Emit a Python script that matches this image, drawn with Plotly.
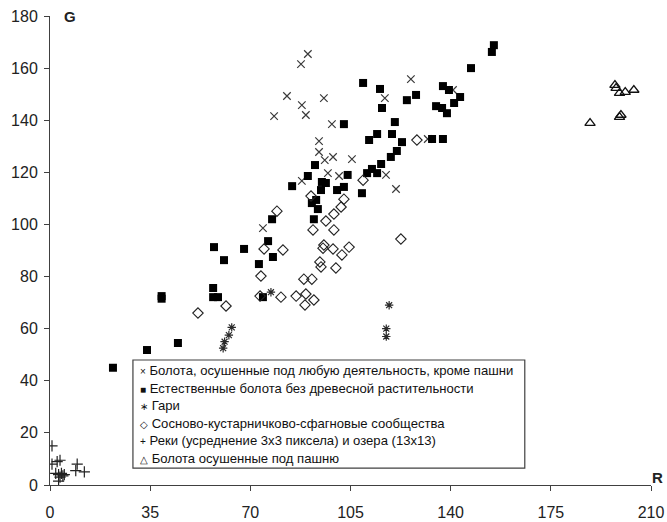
import plotly.graph_objects as go

# Scatter of R vs G brightness for land-cover classes

drained_any_r = [90.1, 87.7, 82.8, 88.0, 89.4, 95.7, 78.3, 98.5, 94.0, 94.0, 98.9, 96.0,
                 97.1, 101.0, 88.0, 74.4, 126.1, 117.0, 140.8, 132.0, 105.5, 117.4, 120.9]
drained_any_g = [165.4, 161.5, 149.3, 145.8, 142.0, 148.5, 141.6, 138.5, 132.0, 127.8, 125.9, 124.7,
                 119.7, 118.6, 116.7, 98.6, 155.8, 148.5, 151.6, 132.8, 125.1, 119.0, 113.6]

natural_r = [22.0, 33.9, 44.7, 39.0, 39.0,
             57.3, 57.0, 57.0, 58.7, 60.8, 67.8, 73.0, 74.4, 76.2, 77.6, 77.9,
             84.6, 90.1, 91.5, 92.2, 92.6, 93.0, 93.6, 94.7, 95.0, 96.4, 100.3, 102.7, 104.0, 109.0,
             102.7, 109.4, 110.8, 111.5, 112.5, 114.3, 114.3, 115.3, 115.7, 116.0, 119.1, 119.5,
             120.5, 121.2, 123.0, 124.7, 127.9, 133.5, 134.9, 137.0, 137.3, 137.3, 138.7, 139.4,
             141.2, 143.3, 147.1, 154.4, 155.1]
natural_g = [45.0, 51.8, 54.5, 72.5, 71.5,
             91.3, 75.6, 72.1, 72.1, 86.3, 90.6, 84.8, 72.1, 93.6, 102.0, 87.5,
             114.7, 118.6, 108.2, 102.0, 122.8, 109.4, 105.9, 113.2, 116.3, 115.9, 113.2, 114.4, 119.0, 112.0,
             138.5, 154.3, 119.7, 132.4, 121.3, 119.7, 134.7, 152.0, 123.2, 144.7, 125.9, 134.7,
             139.3, 128.2, 131.6, 147.7, 149.7, 132.8, 145.4, 144.7, 132.8, 153.1, 142.7, 151.6,
             146.6, 148.9, 160.0, 166.2, 168.8]

burnt_r = [77.2, 63.5, 62.5, 61.0, 60.5, 118.5, 117.5, 117.5]
burnt_g = [74.0, 60.5, 57.5, 55.0, 52.5, 69.0, 60.0, 57.0]

pine_r = [79.3, 74.8, 81.4, 73.7, 51.7, 61.5, 73.4, 80.7, 86.0, 89.4, 92.2, 89.1, 88.7, 91.5,
          94.3, 94.7, 99.9, 95.7, 95.4, 98.9, 102.0, 104.5, 91.9, 99.2, 96.4, 99.2, 101.7, 102.7,
          91.2, 128.2, 109.4, 122.6]
pine_g = [105.1, 90.6, 90.2, 80.2, 66.0, 68.7, 72.5, 72.1, 72.5, 73.3, 71.0, 69.1, 79.0, 79.0,
          85.6, 83.7, 83.3, 92.1, 90.9, 90.6, 88.3, 91.3, 97.9, 97.9, 101.3, 104.0, 106.7, 109.7,
          110.9, 132.4, 117.0, 94.4]

water_r = [0.7, 0.7, 2.5, 3.5, 9.5, 9.0, 12.0, 2.0, 3.0, 4.0, 5.0, 3.5, 3.0, 4.5]
water_g = [15.0, 8.0, 9.0, 9.5, 8.0, 5.5, 5.0, 4.5, 4.0, 4.5, 4.0, 3.0, 1.5, 3.5]

arable_r = [197.4, 197.8, 199.0, 201.0, 204.0, 199.5, 199.0, 188.7]
arable_g = [153.5, 152.3, 150.4, 150.8, 151.6, 142.0, 141.2, 138.9]

labels = [
    "Болота, осушенные под любую деятельность, кроме пашни",
    "Естественные болота без древесной растительности",
    "Гари",
    "Сосново-кустарничково-сфагновые сообщества",
    "Реки (усреднение 3х3 пиксела) и озера (13х13)",
    "Болота осушенные под пашню",
]
# glyphs used as key symbols in the boxed legend
key_glyphs = ["×", "■", "∗", "◇", "+", "△"]

x_ticks = [0, 35, 70, 105, 140, 175, 210]
y_ticks = [0, 20, 40, 60, 80, 100, 120, 140, 160, 180]

series = [
    (drained_any_r, drained_any_g, dict(symbol="x-thin-open", size=7.5, color="#3a3a3a", line=dict(width=1.2, color="#3a3a3a"))),
    (natural_r, natural_g, dict(symbol="square", size=8, color="black", line=dict(width=0))),
    (burnt_r, burnt_g, dict(symbol="asterisk-open", size=7, color="#2a2a2a", line=dict(width=1.2, color="#2a2a2a"))),
    (pine_r, pine_g, dict(symbol="diamond-open", size=8, color="#222", line=dict(width=1.1, color="#222"))),
    (water_r, water_g, dict(symbol="cross-thin-open", size=8, color="#222", line=dict(width=1.2, color="#222"))),
    (arable_r, arable_g, dict(symbol="triangle-up-open", size=9, color="#111", line=dict(width=1.3, color="#111"))),
]

fig = go.Figure()
for (xs, ys, mk), name in zip(series, labels):
    fig.add_trace(go.Scatter(x=xs, y=ys, mode="markers", name=name, marker=mk, showlegend=False))

axis_common = dict(
    showgrid=False, zeroline=False, showline=True, linecolor="#404040", linewidth=1,
    ticks="outside", ticklen=5, tickcolor="#404040", automargin=False,
    tickfont=dict(family="Liberation Sans Narrow, Arial Narrow, sans-serif", size=16, color="#222"),
)

fig.update_xaxes(range=[0, 210], tickvals=x_ticks, ticktext=[str(v) for v in x_ticks],
                 ticklabelstandoff=8, **axis_common)
fig.update_yaxes(range=[0, 180], tickvals=y_ticks, ticktext=[str(v) for v in y_ticks],
                 ticklabelstandoff=3, **axis_common)

fig.add_annotation(x=0, y=1, xref="paper", yref="paper", xanchor="center", yanchor="middle",
                   xshift=20, text="<b>G</b>", showarrow=False,
                   font=dict(family="Liberation Sans, Arial", size=15, color="#222"))
fig.add_annotation(x=1, y=0, xref="paper", yref="paper", xanchor="center", yanchor="middle",
                   xshift=6, yshift=8, text="<b>R</b>", showarrow=False,
                   font=dict(family="Liberation Sans, Arial", size=15, color="#222"))

# boxed key: white frame plus one text row per class
box_left, box_right, box_top, box_bottom = 0.138, 0.790, 0.2665, 0.036
fig.add_shape(type="rect", xref="paper", yref="paper",
              x0=box_left, x1=box_right, y0=box_bottom, y1=box_top,
              fillcolor="white", line=dict(color="#404040", width=1.2), layer="above")

row_top, row_step = 0.2431, 0.0372
for i, (g, lab) in enumerate(zip(key_glyphs, labels)):
    fig.add_annotation(
        x=box_left + 0.0085, y=row_top - i * row_step, xref="paper", yref="paper",
        xanchor="left", yanchor="middle", showarrow=False,
        text=f"<span style='font-size:10px'>{g}</span> {lab}",
        font=dict(family="Liberation Sans, Arial", size=13.1, color="#111"),
    )

fig.update_layout(
    width=667, height=522,
    margin=dict(l=50, r=16, t=16, b=37),
    paper_bgcolor="white", plot_bgcolor="white",
    showlegend=False,
)

fig.write_html("out.html")
